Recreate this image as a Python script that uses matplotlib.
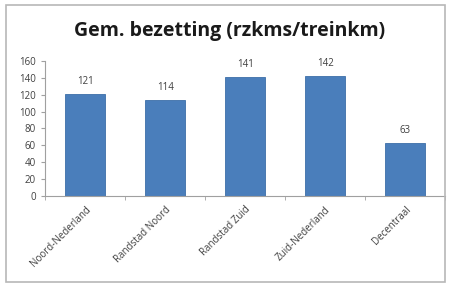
import numpy as np
import matplotlib.pyplot as plt
from matplotlib.patches import Rectangle

regions = ['Noord-Nederland', 'Randstad Noord', 'Randstad Zuid', 'Zuid-Nederland', 'Decentraal']
bezetting = [121, 114, 141, 142, 63]
yticks = [0, 20, 40, 60, 80, 100, 120, 140, 160]

plt.rcParams['font.family'] = ['Open Sans', 'DejaVu Sans']

fig = plt.figure(figsize=(4.51, 2.86), dpi=100)
fig.patches.append(Rectangle((0.014, 0.014), 0.972, 0.968, transform=fig.transFigure,
                             fill=False, edgecolor='#b8b8b8', lw=1.2))
ax = fig.add_axes([0.10, 0.315, 0.887, 0.472])

x = np.arange(len(regions))
ax.bar(x, bezetting, width=0.5, color='#4a7ebb', edgecolor='#3d6fa8', lw=0.6)
for xi, v in zip(x, bezetting):
    ax.text(xi, v + 8, str(v), ha='center', va='bottom', fontsize=7, color='#404040')

ax.set_xlim(-0.5, len(regions) - 0.5)
ax.set_ylim(0, 160)
ax.set_yticks(yticks)
ax.tick_params(axis='y', labelsize=7, colors='#404040', length=3, color='#a0a0a0')
ax.set_xticks(x)
ax.set_xticklabels(regions, rotation=45, ha='right', rotation_mode='anchor', fontsize=7, color='#404040')
ax.tick_params(axis='x', length=0, pad=6)
ax.set_xticks(np.arange(-0.5, len(regions)), minor=True)
ax.tick_params(axis='x', which='minor', length=3, color='#a0a0a0')
for s in ['top', 'right']:
    ax.spines[s].set_visible(False)
for s in ['left', 'bottom']:
    ax.spines[s].set_color('#a0a0a0')

fig.text(0.51, 0.892, 'Gem. bezetting (rzkms/treinkm)', ha='center', va='center',
         fontsize=14, fontweight='bold', color='#1a1a1a')

fig.savefig('out.png', dpi=100)
